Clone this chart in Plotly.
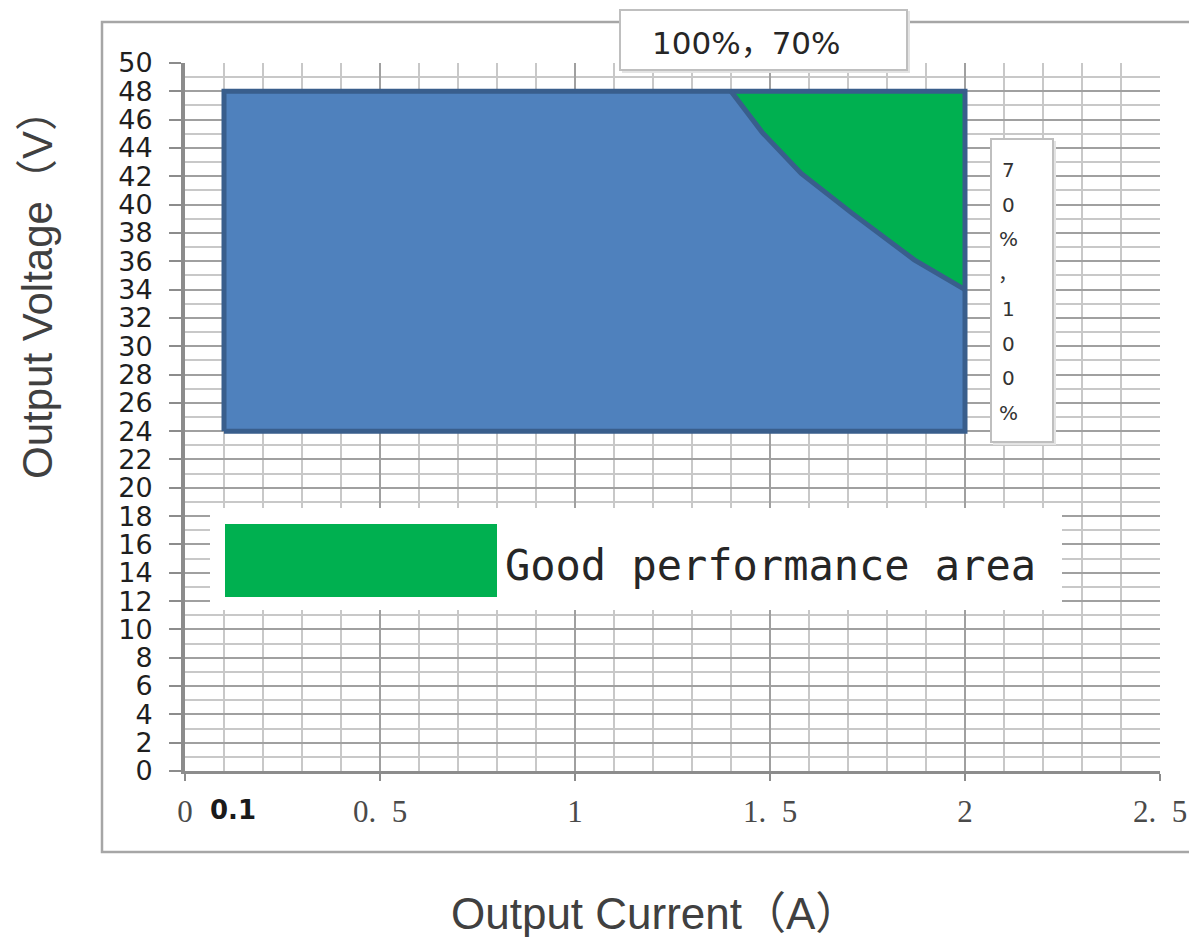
import plotly.graph_objects as go

# ---------------- data ----------------
rect_x = [0.1, 2.0, 2.0, 0.1, 0.1]
rect_y = [24, 24, 48, 48, 24]

curve_x = [1.40, 1.48, 1.58, 1.71, 1.87, 2.0]
curve_y = [48, 45.1, 42.2, 39.4, 36.1, 34]

corner_x = [2.0]
corner_y = [48]

x_tickvals = [0, 0.5, 1, 1.5, 2, 2.5]
x_ticktext = ["0", "0.\u20025", "1", "1.\u20025", "2", "2.\u20025"]
x_extra_label = "0.1"
x_extra_value = 0.1
y_tickvals = list(range(0, 51, 2))

top_label = "100%，70%"
side_chars = ["7", "0", "%", "，", "1", "0", "0", "%"]
legend_label = "Good performance area"
x_title = "Output Current（A）"
y_title = "Output Voltage（V）"

# ---------------- layout helpers (screen pixel -> paper) ----------------
# page body has an 8px margin, so the figure is drawn at (8, 8)
OFF = 8
W, H = 1197 - 2 * OFF, 945 - 2 * OFF
PLOT_L, PLOT_R, PLOT_T, PLOT_B = 185, 1160, 63, 771      # screen pixels
ML, MT = PLOT_L - OFF, PLOT_T - OFF
MR = W - (PLOT_R - OFF)
MB = H - (PLOT_B - OFF)
PW, PH = PLOT_R - PLOT_L, PLOT_B - PLOT_T


def PX(px):
    return (px - PLOT_L) / PW


def PY(py):
    return (PLOT_B - py) / PH


BLUE = "#4F81BD"
BORDER = "#395E8C"
GREEN = "#00B050"
CJK = "DejaVu Sans, Noto Sans CJK SC"

fig = go.Figure()

# blue operating area
fig.add_trace(go.Scatter(x=rect_x, y=rect_y, mode="lines", fill="toself",
                         fillcolor=BLUE, line=dict(width=0), hoverinfo="skip"))
# green good-performance area
gx = curve_x + corner_x + [curve_x[0]]
gy = curve_y + corner_y + [curve_y[0]]
fig.add_trace(go.Scatter(x=gx, y=gy, mode="lines", fill="toself",
                         fillcolor=GREEN, line=dict(width=0), hoverinfo="skip"))
# outlines
fig.add_trace(go.Scatter(x=rect_x, y=rect_y, mode="lines",
                         line=dict(color=BORDER, width=5), hoverinfo="skip"))
fig.add_trace(go.Scatter(x=curve_x, y=curve_y, mode="lines",
                         line=dict(color=BORDER, width=5), hoverinfo="skip"))

shapes = [
    # outer frame
    dict(type="rect", xref="paper", yref="paper", x0=PX(102), x1=PX(1215),
         y0=PY(852), y1=PY(22), line=dict(color="#A6A6A6", width=2.5),
         fillcolor="rgba(0,0,0,0)", layer="below"),
    # top box shadow + box
    dict(type="rect", xref="paper", yref="paper", x0=PX(622), x1=PX(910),
         y0=PY(73), y1=PY(11), line=dict(width=0), fillcolor="#E3E3E3", layer="above"),
    dict(type="rect", xref="paper", yref="paper", x0=PX(620), x1=PX(907),
         y0=PY(70), y1=PY(10), line=dict(color="#BFBFBF", width=2),
         fillcolor="white", layer="above"),
    # side box shadow + box
    dict(type="rect", xref="paper", yref="paper", x0=PX(993), x1=PX(1056),
         y0=PY(445), y1=PY(141), line=dict(width=0), fillcolor="#E3E3E3", layer="above"),
    dict(type="rect", xref="paper", yref="paper", x0=PX(991), x1=PX(1053),
         y0=PY(442), y1=PY(139), line=dict(color="#BFBFBF", width=2),
         fillcolor="white", layer="above"),
    # legend background + swatch
    dict(type="rect", xref="paper", yref="paper", x0=PX(210), x1=PX(1062),
         y0=PY(610), y1=PY(508), line=dict(width=0), fillcolor="white", layer="above"),
    dict(type="rect", xref="paper", yref="paper", x0=PX(225), x1=PX(497),
         y0=PY(597), y1=PY(524), line=dict(width=0), fillcolor=GREEN, layer="above"),
]

annotations = [
    dict(text=top_label, xref="paper", yref="paper", x=PX(650), y=PY(43),
         xanchor="left", yanchor="middle", showarrow=False,
         font=dict(family=CJK, size=31, color="#262626")),
    dict(text=legend_label, xref="paper", yref="paper", x=PX(503), y=PY(565),
         xanchor="left", yanchor="middle", showarrow=False,
         font=dict(family="DejaVu Sans Mono", size=42, color="#262626")),
    dict(text=x_title, xref="paper", yref="paper", x=PX(655), y=PY(913),
         xanchor="center", yanchor="middle", showarrow=False,
         font=dict(family="Liberation Sans, Noto Sans CJK SC", size=44, color="#404040")),
    dict(text=y_title, xref="paper", yref="paper", x=PX(37), y=PY(284),
         xanchor="center", yanchor="middle", showarrow=False, textangle=-90,
         font=dict(family="Liberation Sans, Noto Sans CJK SC", size=42, color="#404040")),
    # extra x label "0.1" (no tick mark in the original)
    dict(text=x_extra_label, xref="x", yref="paper", x=x_extra_value, y=PY(810),
         xshift=9, xanchor="center", yanchor="middle", showarrow=False,
         font=dict(family="DejaVu Sans", size=26, color="#1A1A1A", weight="bold")),
]
for i, ch in enumerate(side_chars):
    annotations.append(dict(text=ch, xref="paper", yref="paper",
                            x=PX(1008), y=PY(170 + 34.7 * i),
                            xanchor="center", yanchor="middle", showarrow=False,
                            font=dict(family=CJK, size=20, color="#333333")))

fig.update_layout(
    width=W, height=H,
    margin=dict(l=ML, r=MR, t=MT, b=MB, pad=0, autoexpand=False),
    paper_bgcolor="white", plot_bgcolor="white",
    showlegend=False,
    shapes=shapes, annotations=annotations,
    xaxis=dict(range=[0, 2.5], tickmode="array", tickvals=x_tickvals, ticktext=x_ticktext,
               automargin=False,
               showgrid=True, gridcolor="#A0A0A0", gridwidth=2,
               minor=dict(dtick=0.1, tick0=0, showgrid=True, gridcolor="#C8C8C8", gridwidth=2),
               showline=True, linecolor="#8C8C8C", linewidth=3,
               ticks="outside", ticklen=7, tickwidth=2, tickcolor="#8C8C8C",
               ticklabelstandoff=4,
               tickfont=dict(family="Liberation Serif, Times New Roman", size=31, color="#4A4A4A"),
               zeroline=False, fixedrange=True),
    yaxis=dict(range=[0, 50], tickmode="array", tickvals=y_tickvals,
               automargin=False,
               showgrid=True, gridcolor="#A0A0A0", gridwidth=2,
               minor=dict(dtick=1, tick0=0, showgrid=True, gridcolor="#C8C8C8", gridwidth=2),
               showline=True, linecolor="#8C8C8C", linewidth=4,
               ticks="outside", ticklen=12, tickwidth=2, tickcolor="#8C8C8C",
               ticklabelstandoff=11,
               tickfont=dict(family="DejaVu Sans", size=27, color="#1F1F1F"),
               zeroline=False, fixedrange=True),
)

fig.write_html("out.html")
